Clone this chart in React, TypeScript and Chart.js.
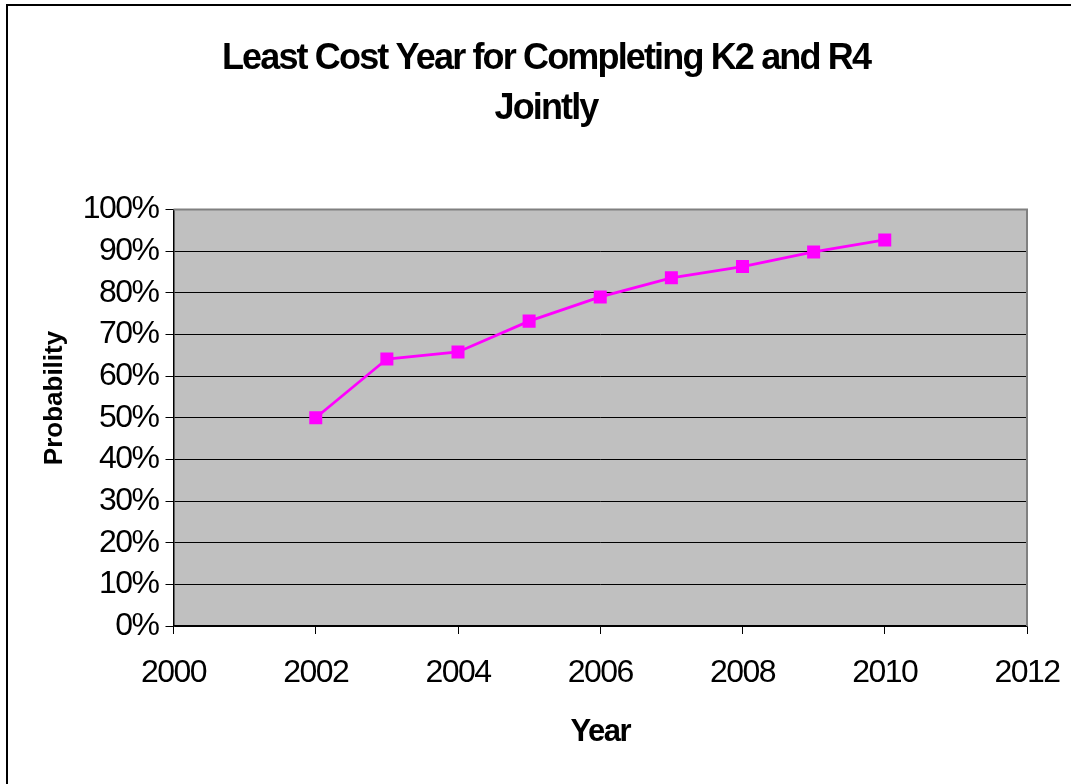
import React, { useEffect, useRef } from "react";
import { Chart, registerables } from "chart.js";

Chart.register(...registerables);

// ---- data ----
const years = [2002, 2003, 2004, 2005, 2006, 2007, 2008, 2009, 2010];
const probability = [50.0, 64.1, 65.8, 73.2, 79.0, 83.6, 86.3, 89.8, 92.7];
const titleLines = ["Least Cost Year for Completing K2 and R4", "Jointly"];
const xAxisTitle = "Year";
const yAxisTitle = "Probability";
const xRange = [2000, 2012];
const xStep = 2;
const yRange = [0, 100];
const yStep = 10;

const FONT = "'Liberation Sans', Arial, Helvetica, sans-serif";

const setSpacing = (ctx: any, v: string) => {
  try {
    ctx.letterSpacing = v;
  } catch (e) {}
};

const plotDecor = {
  id: "plotDecor",
  beforeDraw(chart: any) {
    const { ctx, chartArea: a } = chart;
    ctx.save();
    ctx.fillStyle = "#C0C0C0";
    ctx.fillRect(a.left, a.top, a.right - a.left, a.bottom - a.top);
    ctx.restore();
    // slightly condensed text, like the original rendering
    setSpacing(ctx, "-1.5px");
  },
  beforeDatasetsDraw(chart: any) {
    const { ctx, chartArea: a } = chart;
    ctx.save();
    ctx.strokeStyle = "#808080";
    ctx.lineWidth = 2;
    ctx.beginPath();
    ctx.moveTo(a.left, a.top);
    ctx.lineTo(a.right, a.top);
    ctx.lineTo(a.right, a.bottom);
    ctx.stroke();
    ctx.restore();
  },
  afterDraw(chart: any) {
    const { ctx } = chart;
    // chart title
    ctx.save();
    ctx.font = `bold 36px ${FONT}`;
    ctx.fillStyle = "#000";
    ctx.textAlign = "center";
    ctx.textBaseline = "alphabetic";
    setSpacing(ctx, "-1.85px");
    const baselines = [68.7, 119.3];
    titleLines.forEach((line, i) => ctx.fillText(line, 546, baselines[i]));
    ctx.restore();

    // y-axis title
    ctx.save();
    setSpacing(ctx, "0px");
    ctx.translate(55, 398);
    ctx.rotate(-Math.PI / 2);
    ctx.font = `bold 26px ${FONT}`;
    ctx.fillStyle = "#000";
    ctx.textAlign = "center";
    ctx.textBaseline = "middle";
    ctx.fillText(yAxisTitle, 0, 0);
    ctx.restore();
    setSpacing(ctx, "0px");
  },
};

export default function App() {
  const canvasRef = useRef<HTMLCanvasElement | null>(null);

  useEffect(() => {
    if (!canvasRef.current) return;
    const chart = new Chart(canvasRef.current, {
      type: "line",
      data: {
        datasets: [
          {
            label: "Probability",
            data: years.map((y, i) => ({ x: y, y: probability[i] })),
            borderColor: "#FF00FF",
            backgroundColor: "#FF00FF",
            borderWidth: 2.8,
            pointStyle: "rect",
            pointRadius: 9.2,
            pointBorderWidth: 0,
            pointBackgroundColor: "#FF00FF",
            tension: 0,
            fill: false,
          },
        ],
      },
      options: {
        responsive: false,
        animation: false,
        layout: { padding: { left: 65, right: 44, top: 209.5, bottom: 0 } },
        plugins: {
          legend: { display: false },
          tooltip: { enabled: false },
          title: { display: false },
        },
        scales: {
          x: {
            type: "linear",
            min: xRange[0],
            max: xRange[1],
            grid: {
              drawOnChartArea: false,
              drawTicks: true,
              tickLength: 8,
              color: "#000",
            },
            border: { color: "#000", width: 1.5 },
            ticks: {
              stepSize: xStep,
              color: "#000",
              font: { family: FONT, size: 32, lineHeight: 63 / 32 },
              padding: 8,
              maxRotation: 0,
              autoSkip: false,
              callback: (v: any) => String(v),
            },
            title: {
              display: true,
              text: xAxisTitle,
              color: "#000",
              font: { family: FONT, size: 31, weight: "bold" },
              padding: { top: 0.4, bottom: 33.4 },
            },
          },
          y: {
            min: yRange[0],
            max: yRange[1],
            afterFit: (scale: any) => {
              scale.width = 108.5;
            },
            grid: {
              color: "#000",
              lineWidth: 1,
              tickLength: 8,
            },
            border: { color: "#000", width: 1.5 },
            ticks: {
              stepSize: yStep,
              color: "#000",
              font: { family: FONT, size: 32 },
              padding: 7,
              callback: (v: any) => `${v}%`,
            },
          },
        },
      },
      plugins: [plotDecor],
    } as any);
    return () => chart.destroy();
  }, []);

  return (
    <div
      style={{
        position: "fixed",
        left: 0,
        top: 0,
        width: 1071,
        height: 784,
        overflow: "hidden",
        background: "#fff",
      }}
    >
      <canvas ref={canvasRef} width={1071} height={784} style={{ position: "absolute", left: 0, top: 0 }} />
      <div
        style={{
          position: "absolute",
          left: 6,
          top: 4,
          width: 1200,
          height: 1000,
          border: "2px solid #000",
          pointerEvents: "none",
        }}
      />
    </div>
  );
}
